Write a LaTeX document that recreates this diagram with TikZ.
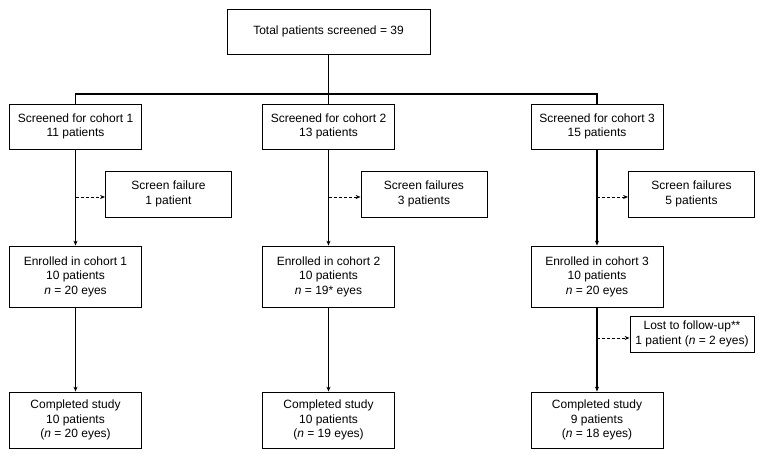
\documentclass[tikz,border=0pt]{standalone}
\usepackage{fontspec}
\setmainfont{Liberation Sans}
\usetikzlibrary{arrows.meta}

\begin{document}
\begin{tikzpicture}[x = 1pt, y = -1pt, font = \fontsize{12}{14.5}\selectfont,
    every node/.style = {draw, align = center, inner sep = 0pt, line width = 0.8pt},
    mainbox/.style = {minimum width = 132pt},
    sidebox/.style = {minimum width = 126pt, minimum height = 46pt},
    link/.style = {line width = 1.1pt},
    flow/.style = {link, -{Stealth[length = 5pt, width = 4pt]}},
    drop/.style = {line width = 0.9pt, dash pattern = on 3pt off 2pt,
        -{Stealth[length = 5pt, width = 4pt]}}]
        \useasboundingbox (0,0) rectangle (764,466);

        \node[minimum width = 203pt, minimum height = 45pt] (total) at (328.5,31.5)
            {Total patients screened = 39};

        \node[mainbox, minimum height = 45pt] (scr1) at (75.5,126.5) {Screened for cohort 1\\11 patients};
        \node[mainbox, minimum height = 45pt] (scr2) at (328.5,126.5) {Screened for cohort 2\\13 patients};
        \node[mainbox, minimum height = 45pt] (scr3) at (597,126.5) {Screened for cohort 3\\15 patients};

        \node[sidebox] (fail1) at (168.5,194) {Screen failure\\1 patient};
        \node[sidebox] (fail2) at (424,194) {Screen failures\\3 patients};
        \node[sidebox] (fail3) at (691.5,194) {Screen failures\\5 patients};

        \node[mainbox, minimum height = 61pt] (enr1) at (75.5,276.5)
            {Enrolled in cohort 1\\10 patients\\{\itshape n} = 20 eyes};
        \node[mainbox, minimum height = 61pt] (enr2) at (328.5,276.5)
            {Enrolled in cohort 2\\10 patients\\{\itshape n} = 19* eyes};
        \node[mainbox, minimum height = 61pt] (enr3) at (597,276.5)
            {Enrolled in cohort 3\\10 patients\\{\itshape n} = 20 eyes};

        \node[minimum width = 124pt, minimum height = 36pt] (lost3) at (692,334)
            {Lost to follow-up**\\1 patient ({\itshape n} = 2 eyes)};

        \node[mainbox, minimum height = 56pt] (done1) at (75.5,420)
            {Completed study\\10 patients\\({\itshape n} = 20 eyes)};
        \node[mainbox, minimum height = 56pt] (done2) at (328.5,420)
            {Completed study\\10 patients\\({\itshape n} = 19 eyes)};
        \node[mainbox, minimum height = 56pt] (done3) at (597,420)
            {Completed study\\9 patients\\({\itshape n} = 18 eyes)};

        \coordinate (split) at (328.5,94);
        \draw[link] (total) -- (split);
        \draw[link] (scr1.north) |- (split) -| (scr3.north);
        \draw[link] (split) -- (scr2.north);

        \draw[flow] (scr1) -- (enr1);
        \draw[flow] (scr2) -- (enr2);
        \draw[flow] (scr3) -- (enr3);
        \draw[flow] (enr1) -- (done1);
        \draw[flow] (enr2) -- (done2);
        \draw[flow] (enr3) -- (done3);

        \coordinate (tip1) at ([yshift = -3pt]fail1.west);
        \coordinate (tip2) at ([yshift = -3pt]fail2.west);
        \coordinate (tip3) at ([yshift = -3pt]fail3.west);
        \coordinate (tip4) at ([yshift = -4pt]lost3.west);
        \draw[drop] (scr1 |- tip1) -- (tip1);
        \draw[drop] (scr2 |- tip2) -- (tip2);
        \draw[drop] (scr3 |- tip3) -- (tip3);
        \draw[drop] (enr3 |- tip4) -- (tip4);
\end{tikzpicture}
\end{document}
